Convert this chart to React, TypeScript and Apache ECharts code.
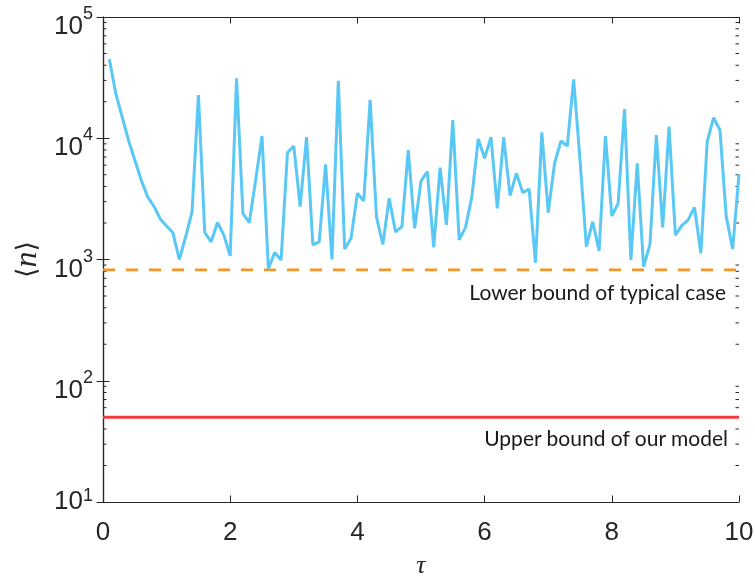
import React, { useEffect, useRef } from "react";
import * as echarts from "echarts";

// sampling step of tau is 0.1, from 0.1 to 10
const tauStep = 0.1;
const nValues = [
  44800, 23500, 15070, 9670, 6620, 4530, 3300, 2760, 2160, 1890,
  1660, 1000, 1540, 2480, 22700, 1670, 1400, 2020, 1590, 1070,
  31200, 2400, 2010, 4530, 10400, 840, 1140, 990, 7600, 8630,
  2730, 10200, 1320, 1400, 6100, 1000, 29700, 1220, 1500, 3520,
  3040, 20700, 2230, 1335, 3200, 1690, 1870, 8000, 1810, 4440,
  5300, 1260, 5720, 1925, 14150, 1450, 1840, 3300, 9860, 6830,
  10200, 2640, 10200, 3360, 5140, 3560, 3810, 940, 11200, 2430,
  6210, 9490, 8630, 30600, 6620, 1275, 2050, 1175, 10400, 2285,
  2900, 17400, 990, 6210, 873, 1335, 10640, 1840, 12460, 1590,
  1900, 2120, 2690, 1125, 9370, 14780, 11700, 2250, 1220, 5070,
];
const tauValues = nValues.map((_, i) => Math.round((i + 1) * tauStep * 10) / 10);

const lowerBoundTypical = 820;
const upperBoundModel = 50;
const xRange = [0, 10];
const yRange = [10, 100000];
const decadeStarts = [10, 100, 1000, 10000];
const minorMultipliers = [2, 3, 4, 5, 6, 7, 8, 9];

const lowerLabel = "Lower bound of typical case";
const upperLabel = "Upper bound of our model";

const axisColor = "#262626";
const blue = "#5AC8F5";
const orange = "#F3962A";
const red = "#F23D3D";

export default function App() {
  const ref = useRef<HTMLDivElement>(null);
  useEffect(() => {
    if (!ref.current) return;
    const chart = echarts.init(ref.current, null, { renderer: "svg" });
    const minorTicks: number[][] = [];
    decadeStarts.forEach((d) => minorMultipliers.forEach((m) => minorTicks.push([xRange[0], d * m])));

    const base = { fontSize: 26, lineHeight: 26, fontFamily: "Liberation Sans", color: axisColor };
    const sup = { fontSize: 18, lineHeight: 18, fontFamily: "Liberation Sans", color: axisColor };
    const labelRich = {
      b: { ...base, padding: [16, 0, 0, 0] },
      s: { ...sup, padding: [0, 0, 8, 0] },
      b1: { ...base, padding: [0, 0, 4, 0] },
      s1: { ...sup, padding: [0, 0, 14, 0] },
    };

    const option: any = {
      animation: false,
      grid: { left: 103, right: 16, top: 17, bottom: 77, containLabel: false, outerBoundsMode: "none" },
      xAxis: [
        {
          type: "value",
          min: xRange[0],
          max: xRange[1],
          interval: 2,
          name: "τ",
          nameLocation: "middle",
          nameGap: 49,
          nameTextStyle: { fontFamily: "Liberation Serif", fontStyle: "italic", fontSize: 26, lineHeight: 26, color: axisColor },
          axisLine: { show: true, lineStyle: { color: axisColor, width: 1.2 } },
          axisTick: { show: true, inside: true, length: 6.5, lineStyle: { color: axisColor } },
          axisLabel: { fontSize: 26, fontFamily: "Liberation Sans", color: axisColor, margin: 16 },
          splitLine: { show: false },
        },
        {
          type: "value",
          position: "top",
          min: xRange[0],
          max: xRange[1],
          interval: 2,
          axisLine: { show: true, lineStyle: { color: axisColor, width: 1.2 } },
          axisTick: { show: true, inside: true, length: 6.5, lineStyle: { color: axisColor } },
          axisLabel: { show: false },
          splitLine: { show: false },
        },
      ],
      yAxis: [
        {
          type: "log",
          logBase: 10,
          min: yRange[0],
          max: yRange[1],
          name: "{br|⟨}{it|n}{br|⟩}",
          nameLocation: "middle",
          nameGap: 62,
          nameTextStyle: {
            rich: {
              br: { fontFamily: "DejaVu Serif", fontSize: 27, color: axisColor },
              it: { fontFamily: "Liberation Serif", fontStyle: "italic", fontSize: 32, color: axisColor },
            },
          },
          axisLine: { show: true, lineStyle: { color: axisColor, width: 1.2 } },
          axisTick: { show: true, inside: true, length: 6.5, lineStyle: { color: axisColor } },
          axisLabel: {
            margin: 10,
            formatter: (v: number) => {
              const e = Math.round(Math.log10(v));
              return e === 1 ? `{b1|10}{s1|${e}}` : `{b|10}{s|${e}}`;
            },
            rich: labelRich,
          },
          splitLine: { show: false },
        },
        {
          type: "log",
          logBase: 10,
          position: "right",
          min: yRange[0],
          max: yRange[1],
          axisLine: { show: true, lineStyle: { color: axisColor, width: 1.2 } },
          axisTick: { show: true, inside: true, length: 6.5, lineStyle: { color: axisColor } },
          axisLabel: { show: false },
          splitLine: { show: false },
        },
      ],
      series: [
        {
          type: "custom",
          name: "minorTicks",
          silent: true,
          clip: false,
          xAxisIndex: 0,
          yAxisIndex: 0,
          data: minorTicks,
          renderItem: (_p: any, api: any) => {
            const v = api.value(1);
            const l = api.coord([xRange[0], v]);
            const r = api.coord([xRange[1], v]);
            return {
              type: "group",
              children: [
                { type: "line", shape: { x1: l[0], y1: l[1], x2: l[0] + 3.5, y2: l[1] }, style: { stroke: axisColor, lineWidth: 1 } },
                { type: "line", shape: { x1: r[0] - 3.5, y1: r[1], x2: r[0], y2: r[1] }, style: { stroke: axisColor, lineWidth: 1 } },
              ],
            };
          },
        },
        {
          type: "line",
          name: "n",
          data: tauValues.map((t, i) => [t, nValues[i]]),
          showSymbol: false,
          symbol: "none",
          lineStyle: { color: blue, width: 3 },
          z: 3,
        },
        {
          type: "line",
          name: lowerLabel,
          data: [[xRange[0], lowerBoundTypical], [xRange[1], lowerBoundTypical]],
          showSymbol: false,
          symbol: "none",
          lineStyle: { color: orange, width: 2.8, type: [12, 11] },
          z: 2,
        },
        {
          type: "line",
          name: upperLabel,
          data: [[xRange[0], upperBoundModel], [xRange[1], upperBoundModel]],
          showSymbol: false,
          symbol: "none",
          lineStyle: { color: red, width: 2.8 },
          z: 2,
        },
      ],
      graphic: [
        {
          type: "text",
          style: { text: lowerLabel, x: 726, y: 291, align: "right", verticalAlign: "middle", font: "21px Lato", fill: "#1a1a1a" },
        },
        {
          type: "text",
          style: { text: upperLabel, x: 728, y: 437, align: "right", verticalAlign: "middle", font: "21px Lato", fill: "#1a1a1a" },
        },
      ],
    };
    chart.setOption(option);
    return () => chart.dispose();
  }, []);
  return <div ref={ref} style={{ position: "fixed", left: 0, top: 0, width: 755, height: 579 }} />;
}
